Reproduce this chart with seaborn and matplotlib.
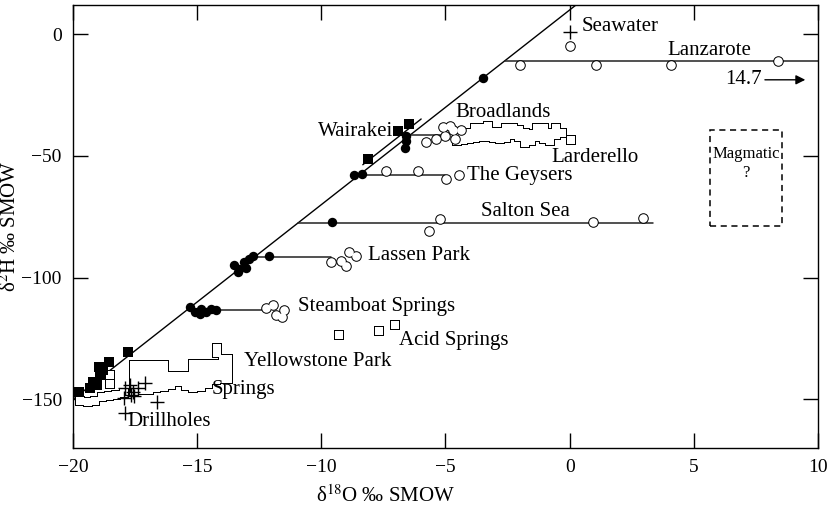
import matplotlib
matplotlib.use("Agg")
import matplotlib.pyplot as plt
import seaborn as sns
import pandas as pd

# ---- data (delta-18O, delta-2H in permil SMOW) ----
mwl_o = [-20.0, 0.25]
mwl_h = [-150.0, 12.0]
wairakei_mwl_o = [-8.33, -5.98]
wairakei_mwl_h = [-53.6, -34.8]

# horizontal oxygen-shift lines: start, end, level
shift_names = ["Lanzarote", "Broadlands", "The Geysers", "Salton Sea", "Lassen Park", "Steamboat Springs"]
shift_o0 = [-2.6, -6.4, -8.6, -10.95, -12.7, -15.4]
shift_o1 = [10.0, -5.0, -5.0, 3.35, -9.6, -12.3]
shift_h = [-10.9, -41.2, -58.0, -77.6, -91.6, -113.4]

# local meteoric waters (filled circles)
met_o = [-3.5, -6.6, -6.6, -6.62, -8.67, -8.35, -9.57,
         -13.5, -13.3, -13.1, -12.9, -12.77, -13.04, -13.37, -12.1,
         -15.3, -15.1, -14.85, -14.65, -14.45, -14.25, -14.9]
met_h = [-18.0, -41.9, -43.9, -46.6, -57.9, -57.5, -77.3,
         -94.7, -96.4, -93.6, -92.3, -90.9, -96.1, -97.7, -90.9,
         -112.0, -114.1, -112.7, -114.1, -112.7, -113.1, -114.8]

# meteoric waters (filled squares): Wairakei and Yellowstone
msq_o = [-6.45, -6.9, -8.13, -19.76, -19.2, -18.95, -18.55, -17.8, -19.05, -19.3, -18.9, -18.8]
msq_h = [-37.0, -39.8, -51.4, -146.8, -142.7, -136.5, -134.5, -130.7, -144.1, -145.4, -140.0, -137.9]

# thermal waters (open circles), one group per field
circ_groups = {
    "Seawater/Lanzarote": ([0.0, -2.0, 1.07, 4.06, 8.4], [-5.0, -12.8, -12.8, -12.8, -10.8]),
    "Broadlands": ([-5.78, -5.40, -5.11, -5.0, -4.81, -4.7, -4.39, -4.6],
                   [-44.2, -42.9, -38.0, -41.9, -37.5, -39.4, -39.4, -43.2]),
    "The Geysers": ([-7.4, -6.12, -4.97, -4.44], [-56.2, -56.2, -59.3, -57.9]),
    "Salton Sea": ([-5.65, -5.21, 0.94, 2.96], [-80.7, -75.9, -77.3, -75.5]),
    "Lassen Park": ([-9.62, -9.0, -8.87, -8.6, -9.2], [-93.6, -95.0, -89.5, -90.9, -93.0]),
    "Steamboat Springs": ([-12.23, -11.96, -11.83, -11.5, -11.6], [-112.4, -111.4, -115.4, -113.4, -116.1]),
}

# thermal waters (open squares)
larderello_o = [-4.55, -4.55, -4.3, -4.3, -4.05, -4.05, -3.8, -3.8, -3.8, -3.55, -3.55, -3.55, -3.3, -3.3, -3.3,
                -3.05, -3.05, -2.8, -2.8, -2.55, -2.55, -2.55, -2.3, -2.3, -2.05, -2.05, -1.8, -1.8, -1.8,
                -1.55, -1.55, -1.3, -1.3, -1.3, -1.05, -1.05, -1.05, -0.8, -0.8, -0.55, -0.55, -0.3, 0.05]
larderello_h = [-42.0, -44.0, -41.0, -43.5, -40.5, -43.0, -38.5, -40.5, -42.5, -38.5, -40.3, -42.0, -37.5, -40.0, -42.0,
                -40.0, -42.5, -40.0, -43.0, -38.5, -40.5, -42.5, -38.5, -41.5, -39.5, -42.0, -40.5, -42.5, -44.5,
                -41.0, -44.0, -38.5, -40.3, -42.0, -38.5, -41.0, -43.0, -40.5, -44.0, -38.5, -41.5, -40.5, -43.5]

acid_o = [-9.27, -7.69, -7.02]
acid_h = [-123.6, -121.8, -119.5]

yellowstone_o = [-14.2, -14.2,
                 -17.55, -17.55, -17.55, -17.55, -17.55,
                 -17.25, -17.25, -17.25, -17.25, -17.25,
                 -16.95, -16.95, -16.95, -16.95, -16.95,
                 -16.65, -16.65, -16.65, -16.65, -16.65,
                 -16.35, -16.35, -16.35, -16.35, -16.35,
                 -16.05, -16.05, -16.05, -15.75, -15.75, -15.45, -15.45, -15.45,
                 -15.15, -15.15, -15.15, -15.15, -15.15,
                 -14.85, -14.85, -14.85, -14.85, -14.85,
                 -14.55, -14.55, -14.55, -14.55,
                 -14.25, -14.25, -14.25, -14.25,
                 -13.95, -13.95, -13.95, -13.95,
                 -13.75, -13.75, -13.75, -13.75,
                 -18.5, -18.5, -19.7, -19.4, -19.1, -18.85, -18.55, -18.25, -17.95]
yellowstone_h = [-128.9, -131.0,
                 -136.0, -138.5, -141.0, -143.5, -146.5,
                 -136.0, -138.5, -141.0, -143.5, -146.0,
                 -136.0, -138.5, -141.0, -143.5, -146.0,
                 -136.0, -138.5, -141.0, -143.3, -145.5,
                 -136.0, -138.5, -141.0, -143.0, -145.0,
                 -140.5, -142.3, -144.0, -140.5, -143.0, -140.5, -142.5, -144.5,
                 -135.5, -138.0, -140.5, -143.0, -145.5,
                 -135.5, -138.0, -140.5, -143.0, -145.0,
                 -135.5, -138.0, -140.5, -143.5,
                 -135.5, -138.0, -140.0, -142.0,
                 -133.5, -136.0, -138.5, -141.5,
                 -133.5, -136.0, -138.5, -141.5,
                 -140.0, -143.5, -150.5, -151.0, -150.5, -149.0, -148.5, -148.0, -147.5]

# crosses: seawater and Yellowstone drillholes
cross_o = [0.0, -17.9, -17.7, -17.6, -17.4, -17.95, -17.1, -16.6, -17.9, -17.53, -17.67]
cross_h = [1.0, -145.4, -144.1, -146.8, -145.4, -149.5, -143.4, -150.9, -155.6, -148.8, -148.2]

# text labels
labels = [
    ("Seawater", 0.5, 3.0, "left"),
    ("Lanzarote", 3.95, -6.5, "left"),
    ("Broadlands", -4.6, -32.2, "left"),
    ("Wairakei", -7.1, -40.0, "right"),
    ("Larderello", -0.75, -50.6, "left"),
    ("The Geysers", -4.15, -58.0, "left"),
    ("Salton Sea", -3.56, -72.9, "left"),
    ("Lassen Park", -8.13, -91.0, "left"),
    ("Steamboat Springs", -10.95, -112.0, "left"),
    ("Acid Springs", -6.88, -125.7, "left"),
    ("Yellowstone Park", -13.1, -134.6, "left"),
    ("Springs", -14.4, -146.1, "left"),
    ("Drillholes", -17.8, -159.0, "left"),
]

# ---- style ----
sns.set_theme(style="ticks")
plt.rcParams["font.family"] = ["Liberation Serif", "DejaVu Serif"]
plt.rcParams["mathtext.fontset"] = "stix"
plt.rcParams["axes.unicode_minus"] = True

fig = plt.figure(figsize=(8.32, 5.08), dpi=100)
ax = fig.add_axes([0.0877, 0.118, 0.8955, 0.872])
ax.set_facecolor("white")

K = "black"
FS = 15

# meteoric water line and the local Wairakei line
sns.lineplot(x=mwl_o, y=mwl_h, ax=ax, color=K, lw=1.0, zorder=1)
sns.lineplot(x=wairakei_mwl_o, y=wairakei_mwl_h, ax=ax, color=K, lw=1.0, zorder=1)

# oxygen-shift lines
for o0, o1, h in zip(shift_o0, shift_o1, shift_h):
    sns.lineplot(x=[o0, o1], y=[h, h], ax=ax, color="#222222", lw=1.1, zorder=1)


def outlined(xs, ys, marker, size_out, size_in, z):
    """Open markers whose overlapping outlines merge into one contour."""
    df = pd.DataFrame({"o": xs, "h": ys})
    sns.scatterplot(data=df, x="o", y="h", ax=ax, marker=marker, s=size_out,
                    color=K, linewidth=0, zorder=z)
    sns.scatterplot(data=df, x="o", y="h", ax=ax, marker=marker, s=size_in,
                    color="white", linewidth=0, zorder=z + 0.1)


# open squares
for xs, ys in [(larderello_o, larderello_h), (acid_o, acid_h), (yellowstone_o, yellowstone_h)]:
    outlined(xs, ys, "s", 56, 40, 3)

# open circles
for xs, ys in circ_groups.values():
    outlined(xs, ys, "o", 58, 38, 4)

# filled markers
sns.scatterplot(x=msq_o, y=msq_h, ax=ax, marker="s", s=56, color=K, linewidth=0, zorder=5)
sns.scatterplot(x=met_o, y=met_h, ax=ax, marker="o", s=46, color=K, linewidth=0, zorder=5)

# crosses
sns.scatterplot(x=cross_o, y=cross_h, ax=ax, marker="+", s=110, color=K, linewidth=1.0, zorder=6)

# labels
for txt, x, y, ha in labels:
    ax.text(x, y, txt, ha=ha, va="center", fontsize=FS, color=K, zorder=7)

# off-scale Lanzarote value
ax.annotate("", xy=(9.6, -18.7), xytext=(7.75, -18.7),
            arrowprops=dict(arrowstyle="-|>", color=K, lw=1.0, mutation_scale=14))
ax.text(7.75, -18.7, "14.7", ha="right", va="center", fontsize=FS, color=K)

# magmatic water field
ax.add_patch(plt.Rectangle((5.67, -78.9), 2.86, 39.7, fill=False, ec=K, lw=1.1,
                           ls=(0, (4, 3)), zorder=2))
ax.text(7.1, -49.3, "Magmatic", ha="center", va="center", fontsize=12, color=K)
ax.text(7.1, -56.8, "?", ha="center", va="center", fontsize=12, color=K)

# axes
ax.set_xlim(-20, 10)
ax.set_ylim(-170, 12)
ax.set_xticks([-20, -15, -10, -5, 0, 5, 10])
ax.set_yticks([0, -50, -100, -150])
ax.tick_params(direction="in", length=11, width=1.0, top=True, right=True,
               labelsize=14, colors=K, pad=8)
for sp in ax.spines.values():
    sp.set_color(K)
    sp.set_linewidth(1.0)
ax.set_xlabel("δ$^{18}$O ‰ SMOW", fontsize=FS, color=K)
ax.xaxis.set_label_coords(0.42, -0.085)
ax.set_ylabel("δ$^{2}$H ‰ SMOW", fontsize=FS, color=K)
ax.yaxis.set_label_coords(-0.07, 0.5)

fig.savefig("out.png", dpi=100)
